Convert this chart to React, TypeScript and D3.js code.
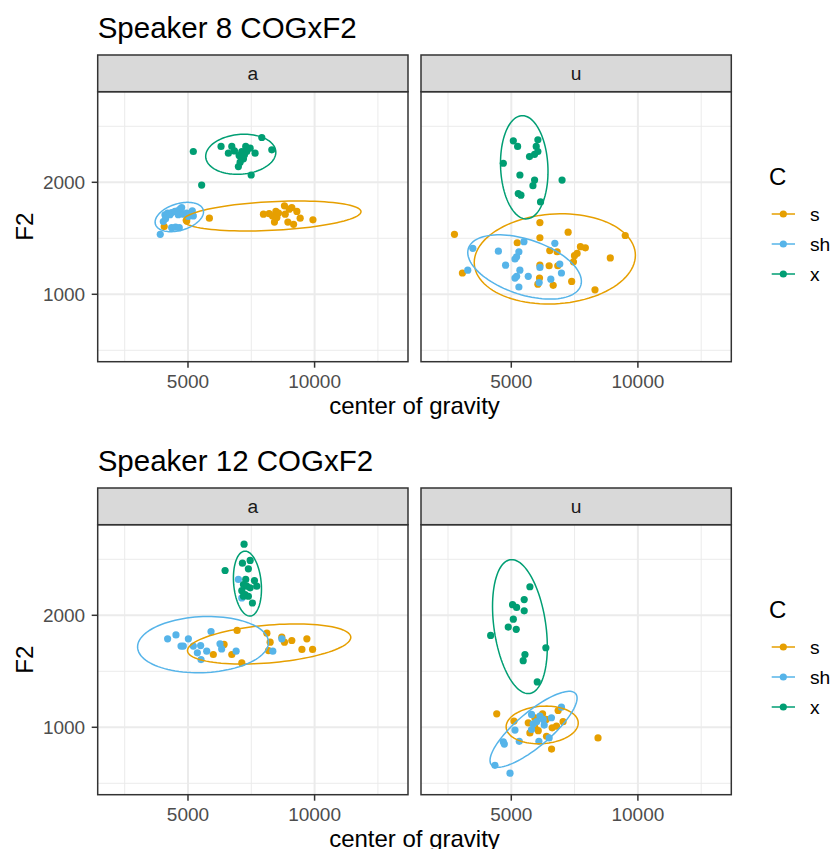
import React from "react";
import * as d3 from "d3";

// categories
const consonants = ["s", "sh", "x"];
const colors = ["#E69F00", "#56B4E9", "#009E73"];
const vowels = ["a", "u"];
const titles = ["Speaker 8 COGxF2", "Speaker 12 COGxF2"];
const xTicks = [5000, 10000];
const xMinor = [2500, 7500, 12500];
const yTicks = [1000, 2000];
const yMinor = [500, 1500, 2500];

// points [center of gravity, F2]
const spk8_a_s = [[4060,1605],[4950,1655],[5845,1680],[7980,1715],[8205,1720],[8340,1700],[8470,1740],[8510,1685],[8415,1645],[8810,1790],[9100,1775],[9300,1740],[8840,1715],[8945,1645],[9170,1625],[9430,1680],[9935,1665],[9000,1760],[8575,1725]];
const spk8_a_sh = [[3905,1535],[4025,1650],[4090,1710],[4195,1725],[4290,1710],[4355,1730],[4485,1740],[4590,1745],[4685,1760],[4750,1775],[4615,1710],[4815,1715],[4945,1725],[5170,1745],[5210,1700],[4355,1595],[4510,1600],[4655,1595],[4115,1675],[5015,1695]];
const spk8_a_x = [[5210,2275],[5540,1975],[6305,2320],[6595,2260],[6730,2320],[6835,2280],[7020,2240],[7125,2275],[7280,2320],[7320,2275],[7190,2210],[7060,2180],[6990,2140],[7455,2305],[7650,2260],[7915,2400],[8310,2290],[7495,2065],[7230,2245]];

const spk8_u_s = [[2755,1535],[3070,1190],[5235,1460],[6130,1640],[6130,1505],[6520,1390],[6810,1380],[7245,1555],[7455,1290],[7600,1365],[7730,1425],[7925,1415],[8910,1325],[9500,1525],[8305,1040],[6130,1260],[6495,1255],[6835,1255],[7385,1115],[6655,1080],[6050,1090],[6115,1145],[7495,1345]];
const spk8_u_sh = [[3480,1410],[3280,1215],[4490,1385],[4775,1260],[5145,1315],[5210,1335],[5300,1380],[5500,1470],[5340,1215],[5210,1160],[5300,1065],[5670,1160],[6130,1240],[6100,1105],[6560,1135],[6720,1455],[6915,1270],[6980,1190],[5145,1145]];
const spk8_u_x = [[5080,2370],[5250,2320],[6050,2380],[5985,2320],[6050,2275],[5920,2250],[5720,2230],[4685,2170],[5340,2065],[5920,2020],[5855,1970],[5275,1900],[5380,1885],[6155,1825],[7005,2020]];

const spk12_a_s = [[6940,1865],[6425,1740],[6000,1650],[6730,1650],[7125,1575],[8115,1840],[8245,1760],[8180,1685],[8705,1805],[8810,1760],[9100,1775],[9695,1790],[9500,1695],[9920,1695]];
const spk12_a_sh = [[4195,1790],[4525,1825],[4725,1725],[4815,1725],[5015,1790],[5210,1725],[5500,1730],[5740,1680],[5910,1855],[5370,1665],[5515,1605],[6265,1745],[6330,1700],[6900,1680],[6990,2320],[7125,2155],[8350,1680],[8705,1790]];
const spk12_a_x = [[7215,2635],[7150,2465],[7455,2490],[7385,2415],[6465,2400],[7280,2320],[7625,2310],[7190,2275],[7320,2260],[7715,2260],[7455,2245],[7125,2220],[7255,2185],[7385,2170],[7545,2110],[7190,2170]];

const spk12_u_s = [[4425,1120],[5105,1055],[5670,1040],[5930,1085],[6235,1120],[6375,1070],[6615,995],[6785,1010],[7045,1050],[6850,1150],[5735,950],[6065,970],[6390,920],[6590,805],[8425,905],[5930,1000]];
const spk12_u_sh = [[4355,660],[4950,590],[4685,870],[4725,850],[5145,975],[5315,875],[6090,875],[6495,905],[5800,1115],[6130,1100],[6260,1070],[6585,1085],[6980,1180],[5865,1030],[6000,1050],[6300,1020],[5800,980]];
const spk12_u_x = [[5735,2255],[5510,2140],[5050,2095],[5210,2070],[5510,2040],[5080,1965],[4880,1895],[5195,1875],[4185,1820],[6365,1710],[5540,1650],[5470,1595],[6025,1405]];

// ellipses [cx, cy, half-width, half-height, correlation] per consonant s, sh, x
const ell8_a = [[8324,1699,3509,134,0.29],[4657,1690,956,131,0.35],[7084,2250,1385,179,0.1]];
const ell8_u = [[6719,1316,3182,403,0.08],[5525,1244,2244,287,-0.45],[5512,2134,938,461,-0.08]];
const ell12_a = [[8205,1744,3225,179,0.33],[5594,1738,2585,251,0.08],[7348,2283,554,290,-0.17]];
const ell12_u = [[6220,1021,1424,168,0.1],[5879,982,1719,339,0.82],[5341,1899,1082,598,-0.3]];

const points = [
  [[spk8_a_s, spk8_a_sh, spk8_a_x], [spk8_u_s, spk8_u_sh, spk8_u_x]],
  [[spk12_a_s, spk12_a_sh, spk12_a_x], [spk12_u_s, spk12_u_sh, spk12_u_x]],
];
const ellipses = [[ell8_a, ell8_u], [ell12_a, ell12_u]];

const font = "'Liberation Sans', Arial, Helvetica, sans-serif";
const panelLeft = [97.7, 421];
const panelW = 310.3;
const panelTop = 91.7;
const panelH = 270;
const stripTop = 55;
const plotStep = 433;

const x = d3.scaleLinear().domain([1434, 13689]).range([0, panelW]);
const y = d3.scaleLinear().domain([398, 2809]).range([panelH, 0]);

function ellipsePath(e) {
  const [cx, cy, a, b, rho] = e;
  const s = Math.sqrt(1 - rho * rho);
  const pts = d3.range(0, 101).map((i) => {
    const t = (i / 100) * 2 * Math.PI;
    return [cx + a * Math.cos(t), cy + b * (rho * Math.cos(t) + s * Math.sin(t))];
  });
  return d3.line().x((d) => x(d[0])).y((d) => y(d[1])).curve(d3.curveLinearClosed)(pts);
}

function Panel({ pi, vi }) {
  const left = panelLeft[vi];
  return (
    <g transform={`translate(${left},${panelTop})`}>
      <rect x={0} y={0} width={panelW} height={panelH} fill="#fff" />
      {xMinor.map((v) => (
        <line key={"xm" + v} x1={x(v)} x2={x(v)} y1={0} y2={panelH} stroke="#EBEBEB" strokeWidth={1} />
      ))}
      {yMinor.map((v) => (
        <line key={"ym" + v} x1={0} x2={panelW} y1={y(v)} y2={y(v)} stroke="#EBEBEB" strokeWidth={1} />
      ))}
      {xTicks.map((v) => (
        <line key={"xM" + v} x1={x(v)} x2={x(v)} y1={0} y2={panelH} stroke="#EBEBEB" strokeWidth={2} />
      ))}
      {yTicks.map((v) => (
        <line key={"yM" + v} x1={0} x2={panelW} y1={y(v)} y2={y(v)} stroke="#EBEBEB" strokeWidth={2} />
      ))}
      {points[pi][vi].map((series, ci) =>
        series.map((d, k) => (
          <circle key={ci + "-" + k} cx={x(d[0])} cy={y(d[1])} r={3.6} fill={colors[ci]} />
        ))
      )}
      {ellipses[pi][vi].map((e, ci) => (
        <path key={"e" + ci} d={ellipsePath(e)} fill="none" stroke={colors[ci]} strokeWidth={1.5} />
      ))}
      <rect x={0} y={0} width={panelW} height={panelH} fill="none" stroke="#333333" strokeWidth={1.5} />
      {/* strip */}
      <rect x={0} y={stripTop - panelTop} width={panelW} height={panelTop - stripTop} fill="#D9D9D9" stroke="#333333" strokeWidth={1.5} />
      <text x={panelW / 2} y={(stripTop - panelTop) / 2} textAnchor="middle" dominantBaseline="central" fontSize={19.2} fill="#1A1A1A">
        {vowels[vi]}
      </text>
      {/* x axis */}
      {xTicks.map((v) => (
        <g key={"xt" + v} transform={`translate(${x(v)},${panelH})`}>
          <line y1={0} y2={6} stroke="#333333" strokeWidth={1.5} />
          <text y={26.5} textAnchor="middle" fontSize={19} fill="#4D4D4D">{v}</text>
        </g>
      ))}
      {vi === 0 &&
        yTicks.map((v) => (
          <g key={"yt" + v} transform={`translate(0,${y(v)})`}>
            <line x1={-6} x2={0} stroke="#333333" strokeWidth={1.5} />
            <text x={-12.5} textAnchor="end" dominantBaseline="central" fontSize={19} fill="#4D4D4D">{v}</text>
          </g>
        ))}
    </g>
  );
}

function Plot({ pi }) {
  return (
    <g transform={`translate(0,${pi * plotStep})`}>
      <text x={97.7} y={37.5} fontSize={29.5} fill="#000">{titles[pi]}</text>
      {vowels.map((v, vi) => (
        <Panel key={v} pi={pi} vi={vi} />
      ))}
      <text x={(panelLeft[0] + panelLeft[1] + panelW) / 2} y={414} textAnchor="middle" fontSize={24} fill="#000">
        center of gravity
      </text>
      <text transform={`translate(33,${panelTop + panelH / 2}) rotate(-90)`} textAnchor="middle" fontSize={24} fill="#000">
        F2
      </text>
      <g>
        <text x={769} y={185} fontSize={24} fill="#000">C</text>
        {consonants.map((c, ci) => (
          <g key={c} transform={`translate(0,${214 + ci * 30})`}>
            <line x1={771.7} x2={795} stroke={colors[ci]} strokeWidth={1.5} />
            <circle cx={783.3} cy={0} r={3.6} fill={colors[ci]} />
            <text x={810} dominantBaseline="central" fontSize={19.2} fill="#000">{c}</text>
          </g>
        ))}
      </g>
    </g>
  );
}

export default function App() {
  return (
    <div style={{ position: "absolute", left: 0, top: 0 }}>
      <svg width={830} height={849} style={{ display: "block", fontFamily: font }}>
        <rect width={830} height={849} fill="#fff" />
        {titles.map((t, pi) => (
          <Plot key={t} pi={pi} />
        ))}
      </svg>
    </div>
  );
}
